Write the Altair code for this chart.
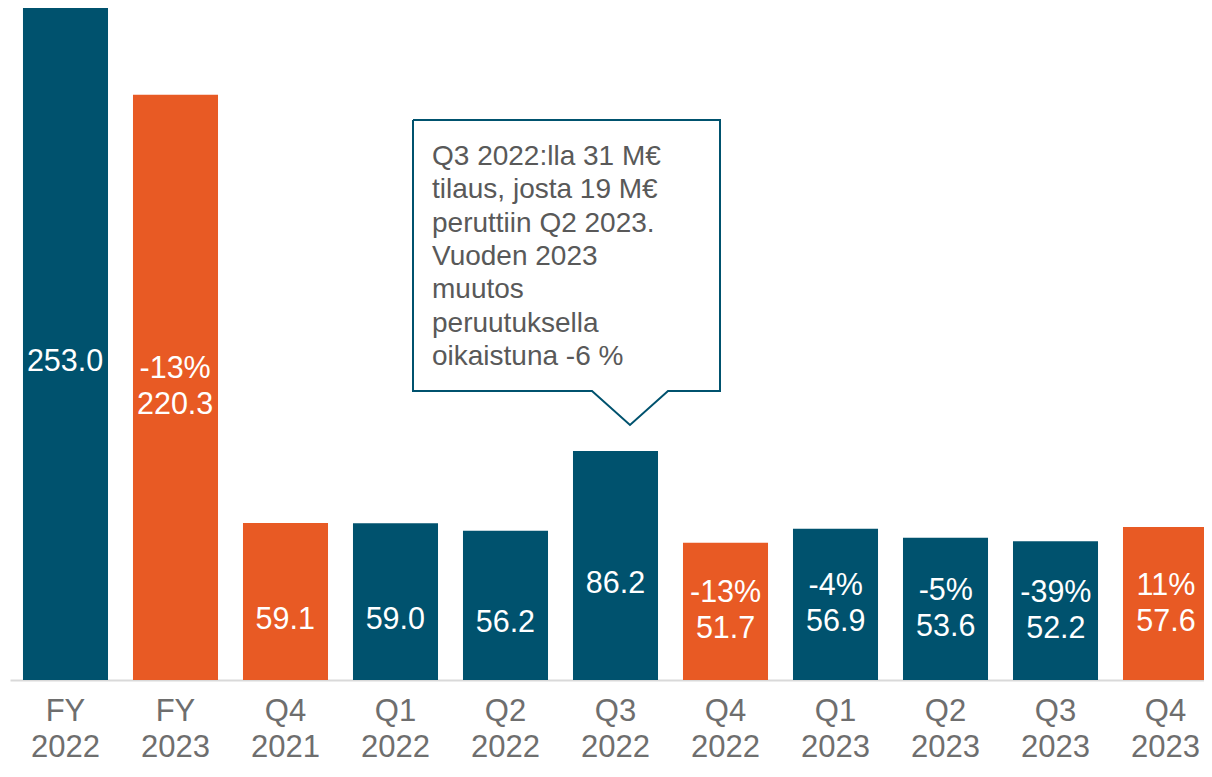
import altair as alt
import pandas as pd

# --- data ---
kategoriat = ["FY 2022", "FY 2023", "Q4 2021", "Q1 2022", "Q2 2022", "Q3 2022",
              "Q4 2022", "Q1 2023", "Q2 2023", "Q3 2023", "Q4 2023"]
arvot = [253.0, 220.3, 59.1, 59.0, 56.2, 86.2, 51.7, 56.9, 53.6, 52.2, 57.6]
muutokset = ["", "-13%", "", "", "", "", "-13%", "-4%", "-5%", "-39%", "11%"]
ryhmat = ["muu", "korostus", "korostus", "muu", "muu", "muu",
          "korostus", "muu", "muu", "muu", "korostus"]

huomio_rivit = ["Q3 2022:lla 31 M€", "tilaus, josta 19 M€", "peruttiin Q2 2023.",
                "Vuoden 2023", "muutos", "peruutuksella", "oikaistuna -6 %"]

# callout outline (pixel positions of the annotation)
huomio_x = [405, 712, 712, 660, 622, 584, 405, 405]
huomio_y = [112, 112, 383, 383, 417, 383, 383, 112]

TEAL = "#00526E"
ORANGE = "#E85A24"
FONT = "Liberation Sans"

df = pd.DataFrame({"kategoria": kategoriat, "arvo": arvot,
                   "muutos": muutokset, "ryhma": ryhmat})
df_h = pd.DataFrame({"px": huomio_x, "py": huomio_y,
                     "jarj": list(range(len(huomio_x)))})

xscale = alt.Scale(range=[2, 1213], paddingInner=0.227, paddingOuter=0.118)
yscale = alt.Scale(domain=[0, 253], nice=False, zero=True)

x_axis = alt.Axis(title=None, labelExpr="split(datum.label, ' ')", ticks=False,
                  tickSize=0, labelPadding=40, labelBaseline="alphabetic",
                  labelFontSize=31, labelLineHeight=36, labelColor="#6E6E6E",
                  labelFont=FONT, domainColor="#D9D9D9", domainWidth=2,
                  grid=False, labelAngle=0)

bars = alt.Chart(df).mark_bar().encode(
    x=alt.X("kategoria:N", sort=kategoriat, scale=xscale, axis=x_axis),
    y=alt.Y("arvo:Q", scale=yscale, axis=None),
    color=alt.Color("ryhma:N", scale=alt.Scale(domain=["muu", "korostus"],
                                                range=[TEAL, ORANGE]), legend=None),
)

base_txt = alt.Chart(df).transform_calculate(keski="datum.arvo / 2")

arvo_txt = base_txt.mark_text(color="white", fontSize=30.5, font=FONT,
                              baseline="middle", dy=18).encode(
    x=alt.X("kategoria:N", sort=kategoriat, scale=xscale, axis=None),
    y=alt.Y("keski:Q", scale=yscale, axis=None),
    text=alt.Text("arvo:Q", format=".1f"),
)

muutos_txt = base_txt.mark_text(color="white", fontSize=30.5, font=FONT,
                                baseline="middle", dy=-18).encode(
    x=alt.X("kategoria:N", sort=kategoriat, scale=xscale, axis=None),
    y=alt.Y("keski:Q", scale=yscale, axis=None),
    text="muutos:N",
)

huomio_reuna = alt.Chart(df_h).mark_line(color=TEAL, strokeWidth=2).encode(
    x=alt.X("px:Q", scale=None, axis=None),
    y=alt.Y("py:Q", scale=None, axis=None),
    order="jarj:Q",
)

huomio_teksti = alt.Chart(pd.DataFrame({"a": [0]})).mark_text(
    text=huomio_rivit, align="left", baseline="alphabetic", lineHeight=33.3,
    fontSize=28, font=FONT, color="#595959",
).encode(x=alt.value(424), y=alt.value(157))

chart = alt.layer(bars, arvo_txt, muutos_txt, huomio_reuna, huomio_teksti).resolve_scale(
    x="independent", y="independent"
).properties(
    width=1196, height=672,
    autosize=alt.AutoSizeParams(type="none"),
    padding={"left": 0, "top": 0, "right": 0, "bottom": 83},
    background="white",
).configure_view(stroke=None)

chart.save("out.html", embed_options={"renderer": "svg", "actions": False})
